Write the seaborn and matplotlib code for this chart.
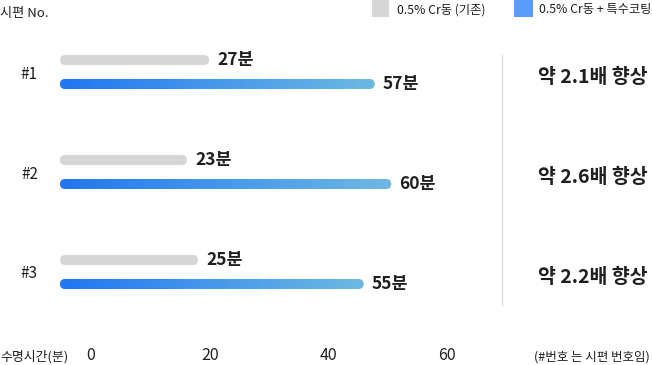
import numpy as np
import pandas as pd
import matplotlib
matplotlib.use("Agg")
import matplotlib.pyplot as plt
import seaborn as sns
from matplotlib.patches import FancyBboxPatch, Rectangle
from matplotlib.colors import LinearSegmentedColormap
from matplotlib.transforms import blended_transform_factory
from matplotlib.lines import Line2D

# ---- data ----
samples = ["#1", "#2", "#3"]
base_minutes = [27, 23, 25]
coated_minutes = [57, 60, 55]
ratio_labels = ["약 2.1배 향상", "약 2.6배 향상", "약 2.2배 향상"]
series_names = ["0.5% Cr동 (기존)", "0.5% Cr동 + 특수코팅"]
axis_ticks = [0, 20, 40, 60]

sns.set_theme(style="white")
plt.rcParams["font.family"] = ["Noto Sans CJK KR", "DejaVu Sans"]

W, H = 652, 365
fig = plt.figure(figsize=(W / 100, H / 100), dpi=100)
fig.patch.set_facecolor("white")

def fx(px):
    return px / W

def fy(py):
    return 1 - py / H

TXT = "#1f1f1f"
GRAY = "#D6D6D6"
BLUE_L = "#2177F2"
BLUE_R = "#6DB9E3"
LEG_BLUE = "#5A9BFD"

df = pd.DataFrame({
    "sample": samples * 2,
    "minutes": base_minutes + coated_minutes,
    "kind": [series_names[0]] * 3 + [series_names[1]] * 3,
})

ax = fig.add_axes([fx(60), fy(322), fx(500) - fx(60), 300 / H])
sns.barplot(data=df, y="sample", x="minutes", hue="kind", orient="h", ax=ax,
            palette=[GRAY, LEG_BLUE], width=0.48, legend=False, saturation=1,
            errorbar=None)
XMAX = 440 / 5.52
ax.set_xlim(0, XMAX)
ax.set_ylim(2.5, -0.5)

# restyle bars as rounded pills
px_per_x = 440 / XMAX
bar_h = 0.10
r_x = 5 / px_per_x
m_aspect = bar_h / (2 * r_x)
cmap = LinearSegmentedColormap.from_list("bl", [BLUE_L, BLUE_R])
grad = np.linspace(0, 1, 256).reshape(1, -1)
patches = list(ax.patches)
for i, p in enumerate(patches):
    val = p.get_width()
    yc = p.get_y() + p.get_height() / 2
    p.set_visible(False)
    is_base = i < len(samples)
    pill = FancyBboxPatch((0, yc - bar_h / 2), val, bar_h,
                          boxstyle=f"round,pad=0,rounding_size={r_x}",
                          mutation_aspect=m_aspect,
                          facecolor=GRAY if is_base else "none",
                          edgecolor="none", zorder=3)
    ax.add_patch(pill)
    if not is_base:
        im = ax.imshow(grad, cmap=cmap, extent=[0, val, yc + bar_h / 2, yc - bar_h / 2],
                       aspect="auto", interpolation="bilinear", zorder=3)
        im.set_clip_path(pill)
    ax.text(val + 8 / px_per_x, yc, f"{int(val)}분", ha="left", va="center",
            fontsize=12.5, fontweight="bold", color=TXT, zorder=4)

ax.set_xlim(0, XMAX)
ax.set_ylim(2.5, -0.5)
for s in ax.spines.values():
    s.set_visible(False)
ax.set_xticks([])
ax.set_xlabel("")
ax.set_ylabel("")
ax.tick_params(axis="y", length=0, pad=16, labelsize=11, labelcolor=TXT)
ax.set_facecolor("none")

# ratio annotations
tr = blended_transform_factory(fig.transFigure, ax.transData)
for i, lab in enumerate(ratio_labels):
    ax.text(fx(538), i + 0.05, lab, transform=tr, ha="left", va="center",
            fontsize=14, fontweight="bold", color=TXT)

# separator line
fig.add_artist(Line2D([fx(502), fx(502)], [fy(55), fy(305)], color="#DDDDDD", lw=1))

# bottom scale axis
ax2 = fig.add_axes([fx(91), fy(347), fx(447) - fx(91), 0.0001])
ax2.set_xlim(axis_ticks[0], axis_ticks[-1])
ax2.set_xticks(axis_ticks)
ax2.set_xticklabels([str(t) for t in axis_ticks])
ax2.set_yticks([])
for s in ax2.spines.values():
    s.set_visible(False)
ax2.tick_params(axis="x", length=0, pad=0, labelsize=11.5, labelcolor=TXT)
ax2.set_facecolor("none")

fig.text(fx(0), fy(357), "수명시간(분)", ha="left", va="center", fontsize=9.3, color=TXT)
fig.text(fx(650), fy(357), "(#번호 는 시편 번호임)", ha="right", va="center", fontsize=9,
         color=TXT)
fig.text(fx(0), fy(14), "시편 No.", ha="left", va="center", fontsize=9.5, color=TXT)

# legend
fig.add_artist(Rectangle((fx(372), fy(17)), fx(389) - fx(372), 17 / H,
                         transform=fig.transFigure, facecolor=GRAY, edgecolor="none"))
fig.text(fx(397), fy(10), series_names[0], ha="left", va="center", fontsize=8.8, color=TXT)
fig.add_artist(Rectangle((fx(514), fy(17)), fx(533) - fx(514), 17 / H,
                         transform=fig.transFigure, facecolor=LEG_BLUE, edgecolor="none"))
fig.text(fx(539), fy(10), series_names[1], ha="left", va="center", fontsize=8.8, color=TXT)

fig.savefig("out.png", dpi=100)
